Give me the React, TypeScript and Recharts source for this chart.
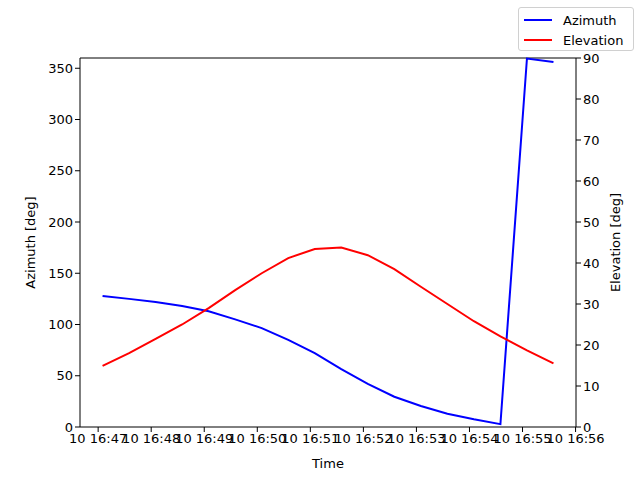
import React from 'react';
import { LineChart, Line, XAxis, YAxis, ReferenceLine } from 'recharts';

// pass times (hh:mm:ss on the 10th)
const times = [
  '16:47:05', '16:47:35', '16:48:05', '16:48:35', '16:49:05', '16:49:35',
  '16:50:05', '16:50:35', '16:51:05', '16:51:35', '16:52:05', '16:52:35',
  '16:53:05', '16:53:35', '16:54:05', '16:54:35', '16:55:05', '16:55:35',
];
const azimuth = [127.7, 125, 122, 118, 113, 105, 96.5, 85, 72, 56.5, 42, 29.5, 20.5, 13, 7.5, 2.8, 359.5, 356];
const elevation = [14.9, 18, 21.5, 25, 29, 33.4, 37.5, 41.2, 43.4, 43.8, 41.9, 38.5, 34.2, 30, 25.8, 22.1, 18.7, 15.5];

const xTicks = [47, 48, 49, 50, 51, 52, 53, 54, 55, 56];
const azTicks = [0, 50, 100, 150, 200, 250, 300, 350];
const elTicks = [0, 10, 20, 30, 40, 50, 60, 70, 80, 90];

const toMinutes = (t: string) => {
  const [h, m, s] = t.split(':').map(Number);
  return (h - 16) * 60 + m + s / 60;
};

const data = times.map((t, i) => ({ t: toMinutes(t), az: azimuth[i], el: elevation[i] }));

const font = 'DejaVu Sans, sans-serif';
const tickStyle = { fill: '#000', fontSize: 13, fontFamily: font };

const LegendBox = () => (
  <div
    style={{
      position: 'absolute', left: 518, top: 7, width: 116, height: 44,
      border: '1px solid #d0d0d0', borderRadius: 3, background: '#fff',
      fontFamily: font, fontSize: 13, color: '#000', boxSizing: 'border-box',
    }}
  >
    {[['Azimuth', '#0000ff'], ['Elevation', '#ff0000']].map(([name, c], i) => (
      <div key={name} style={{ position: 'absolute', left: 5, top: 3 + i * 20, height: 18, display: 'flex', alignItems: 'center' }}>
        <span style={{ display: 'inline-block', width: 28, height: 2, background: c, marginRight: 11 }} />
        <span>{name}</span>
      </div>
    ))}
  </div>
);

export default function App() {
  return (
    <div style={{ position: 'absolute', left: 0, top: 0, width: 640, height: 480, background: '#fff' }}>
      <LineChart width={640} height={480} data={data} margin={{ top: 58, right: 0, bottom: 0, left: 0 }}>
        <XAxis
          dataKey="t" type="number" domain={[46.658, 56.008]} ticks={xTicks}
          tickFormatter={(v: number) => `10 16:${v}`} allowDataOverflow
          height={53} stroke="#000" tickSize={5} tick={tickStyle}
          label={{ value: 'Time', position: 'insideBottom', offset: 12, fill: '#000', fontSize: 13, fontFamily: font }}
        />
        <YAxis
          yAxisId="az" domain={[0, 360]} ticks={azTicks} width={80} stroke="#000"
          tickSize={5} tick={tickStyle}
          label={{ value: 'Azimuth [deg]', angle: -90, position: 'insideLeft', offset: 30, fill: '#000', fontSize: 13, fontFamily: font, style: { textAnchor: 'middle' } }}
        />
        <YAxis
          yAxisId="el" orientation="right" domain={[0, 90]} ticks={elTicks} width={64} stroke="#000"
          tickSize={5} tick={tickStyle}
          label={{ value: 'Elevation [deg]', angle: -90, position: 'insideRight', offset: 25, fill: '#000', fontSize: 13, fontFamily: font, style: { textAnchor: 'middle' } }}
        />
        <ReferenceLine yAxisId="az" y={360} stroke="#000" />
        <Line yAxisId="az" dataKey="az" stroke="#0000ff" strokeWidth={2} dot={false} type="linear" isAnimationActive={false} />
        <Line yAxisId="el" dataKey="el" stroke="#ff0000" strokeWidth={2} dot={false} type="linear" isAnimationActive={false} />
      </LineChart>
      <LegendBox />
    </div>
  );
}
